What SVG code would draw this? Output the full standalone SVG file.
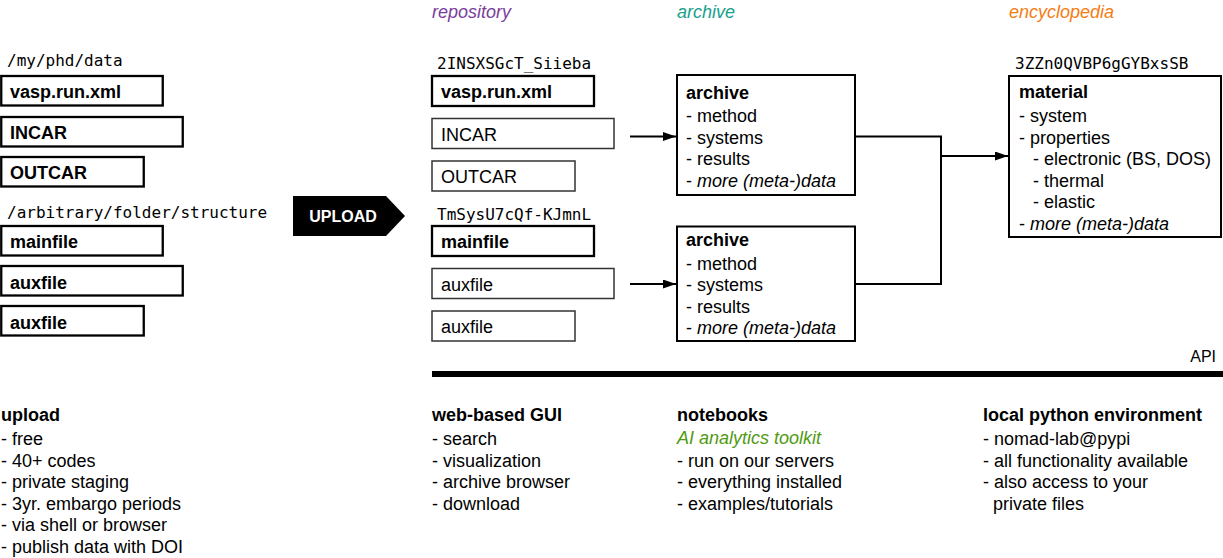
<svg xmlns="http://www.w3.org/2000/svg" width="1223" height="558" viewBox="0 0 1223 558">
<style>
text{font-family:"Liberation Sans",Arial,Helvetica,sans-serif;font-size:18px;fill:#000}
.b{font-weight:bold}
.i{font-style:italic}
.mono{font-family:"DejaVu Sans Mono","Liberation Mono",monospace;font-size:16px}
.thick{fill:#fff;stroke:#000;stroke-width:2.3}
.thin{fill:#fff;stroke:#333;stroke-width:1.5}
.box{fill:#fff;stroke:#000;stroke-width:2}
.conn{fill:none;stroke:#000;stroke-width:2}
</style>
<defs>
<marker id="ah" markerWidth="14" markerHeight="10" refX="13" refY="4.5" orient="auto" markerUnits="userSpaceOnUse">
<path d="M0,0 L13,4.5 L0,9 Z" fill="#000"/>
</marker>
</defs>

<!-- column headers -->
<text x="432" y="18" class="i" style="fill:#7a3d9a">repository</text>
<text x="677" y="18" class="i" style="fill:#17a08c">archive</text>
<text x="1009" y="18" class="i" style="fill:#f57c12">encyclopedia</text>

<!-- local files -->
<g id="local-data">
<text x="7" y="66" class="mono">/my/phd/data</text>
<g id="l-vasp"><rect x="1.25" y="76" width="161.5" height="29.5" class="thick"/><text x="10" y="98" class="b">vasp.run.xml</text></g>
<g id="l-incar"><rect x="1.25" y="117" width="181.5" height="29.5" class="thick"/><text x="10" y="138.5" class="b">INCAR</text></g>
<g id="l-outcar"><rect x="1.25" y="157" width="142.5" height="29.5" class="thick"/><text x="10" y="178.5" class="b">OUTCAR</text></g>
</g>
<g id="local-struct">
<text x="7" y="218" class="mono">/arbitrary/folder/structure</text>
<g id="l-main"><rect x="1.25" y="226" width="161.5" height="29.5" class="thick"/><text x="10" y="248" class="b">mainfile</text></g>
<g id="l-aux1"><rect x="1.25" y="266" width="181.5" height="29.5" class="thick"/><text x="10" y="288.5" class="b">auxfile</text></g>
<g id="l-aux2"><rect x="1.25" y="306" width="142.5" height="29.5" class="thick"/><text x="10" y="328.5" class="b">auxfile</text></g>
</g>

<!-- upload arrow -->
<g id="upload">
<polygon points="293,196 386,196 405,216 386,236 293,236" fill="#000"/>
<text x="343" y="222" text-anchor="middle" class="b" style="fill:#fff;font-size:16px">UPLOAD</text>
</g>

<!-- repository -->
<g id="repo-1">
<text x="437" y="69" class="mono">2INSXSGcT_Siieba</text>
<g id="r-vasp"><rect x="432" y="76" width="162" height="30" class="thick"/><text x="441" y="98" class="b">vasp.run.xml</text></g>
<g id="r-incar"><rect x="432" y="118.5" width="182" height="30" class="thin"/><text x="441" y="140.5">INCAR</text></g>
<g id="r-outcar"><rect x="432" y="161" width="143" height="30" class="thin"/><text x="441" y="183">OUTCAR</text></g>
</g>
<g id="repo-2">
<text x="437" y="220" class="mono">TmSysU7cQf-KJmnL</text>
<g id="r-main"><rect x="432" y="226" width="162" height="30" class="thick"/><text x="441" y="248" class="b">mainfile</text></g>
<g id="r-aux1"><rect x="432" y="268.5" width="182" height="30" class="thin"/><text x="441" y="290.5">auxfile</text></g>
<g id="r-aux2"><rect x="432" y="311" width="143" height="30" class="thin"/><text x="441" y="333">auxfile</text></g>
</g>

<!-- archive boxes -->
<g id="archive-1">
<rect x="677" y="75" width="178" height="120" class="box"/>
<text x="686" y="99" class="b">archive</text>
<text x="686" y="122">- method</text>
<text x="686" y="143.5">- systems</text>
<text x="686" y="165">- results</text>
<text x="686" y="186.5">- <tspan class="i">more (meta-)data</tspan></text>
</g>
<g id="archive-2">
<rect x="677" y="226.5" width="178" height="114.5" class="box"/>
<text x="686" y="246" class="b">archive</text>
<text x="686" y="269.5">- method</text>
<text x="686" y="291">- systems</text>
<text x="686" y="312.5">- results</text>
<text x="686" y="334">- <tspan class="i">more (meta-)data</tspan></text>
</g>

<!-- material -->
<g id="material">
<text x="1015" y="69" class="mono">3ZZn0QVBP6gGYBxsSB</text>
<rect x="1009" y="76" width="212" height="161" class="box"/>
<text x="1019" y="98" class="b">material</text>
<text x="1019" y="122">- system</text>
<text x="1019" y="143.5">- properties</text>
<text x="1033" y="165">- electronic (BS, DOS)</text>
<text x="1033" y="186.5">- thermal</text>
<text x="1033" y="208">- elastic</text>
<text x="1019" y="229.5">- <tspan class="i">more (meta-)data</tspan></text>
</g>

<!-- connectors -->
<g id="connectors">
<line x1="630" y1="136.5" x2="676" y2="136.5" class="conn" marker-end="url(#ah)"/>
<line x1="630" y1="284" x2="676" y2="284" class="conn" marker-end="url(#ah)"/>
<polyline points="855,136.5 941,136.5 941,284 855,284" class="conn"/>
<line x1="941" y1="156" x2="1008" y2="156" class="conn" marker-end="url(#ah)"/>
</g>

<!-- API bar -->
<g id="api">
<text x="1216" y="362" text-anchor="end" style="font-size:16px">API</text>
<rect x="432" y="371" width="791" height="6" fill="#000"/>
</g>

<!-- bottom columns -->
<g id="upload-info">
<text x="1" y="421" class="b">upload</text>
<text x="1" y="445">- free</text>
<text x="1" y="466.6">- 40+ codes</text>
<text x="1" y="488.2">- private staging</text>
<text x="1" y="509.8">- 3yr. embargo periods</text>
<text x="1" y="531.4">- via shell or browser</text>
<text x="1" y="553">- publish data with DOI</text>
</g>
<g id="gui-info">
<text x="432" y="421" class="b">web-based GUI</text>
<text x="432" y="445">- search</text>
<text x="432" y="466.6">- visualization</text>
<text x="432" y="488.2">- archive browser</text>
<text x="432" y="509.8">- download</text>
</g>
<g id="notebooks-info">
<text x="677" y="421" class="b">notebooks</text>
<text x="677" y="444" class="i" style="fill:#4f9a0f">AI analytics toolkit</text>
<text x="677" y="466.6">- run on our servers</text>
<text x="677" y="488.2">- everything installed</text>
<text x="677" y="509.8">- examples/tutorials</text>
</g>
<g id="python-info">
<text x="983" y="421" class="b">local python environment</text>
<text x="983" y="445">- nomad-lab@pypi</text>
<text x="983" y="466.6">- all functionality available</text>
<text x="983" y="488.2">- also access to your</text>
<text x="993" y="509.8">private files</text>
</g>
</svg>
